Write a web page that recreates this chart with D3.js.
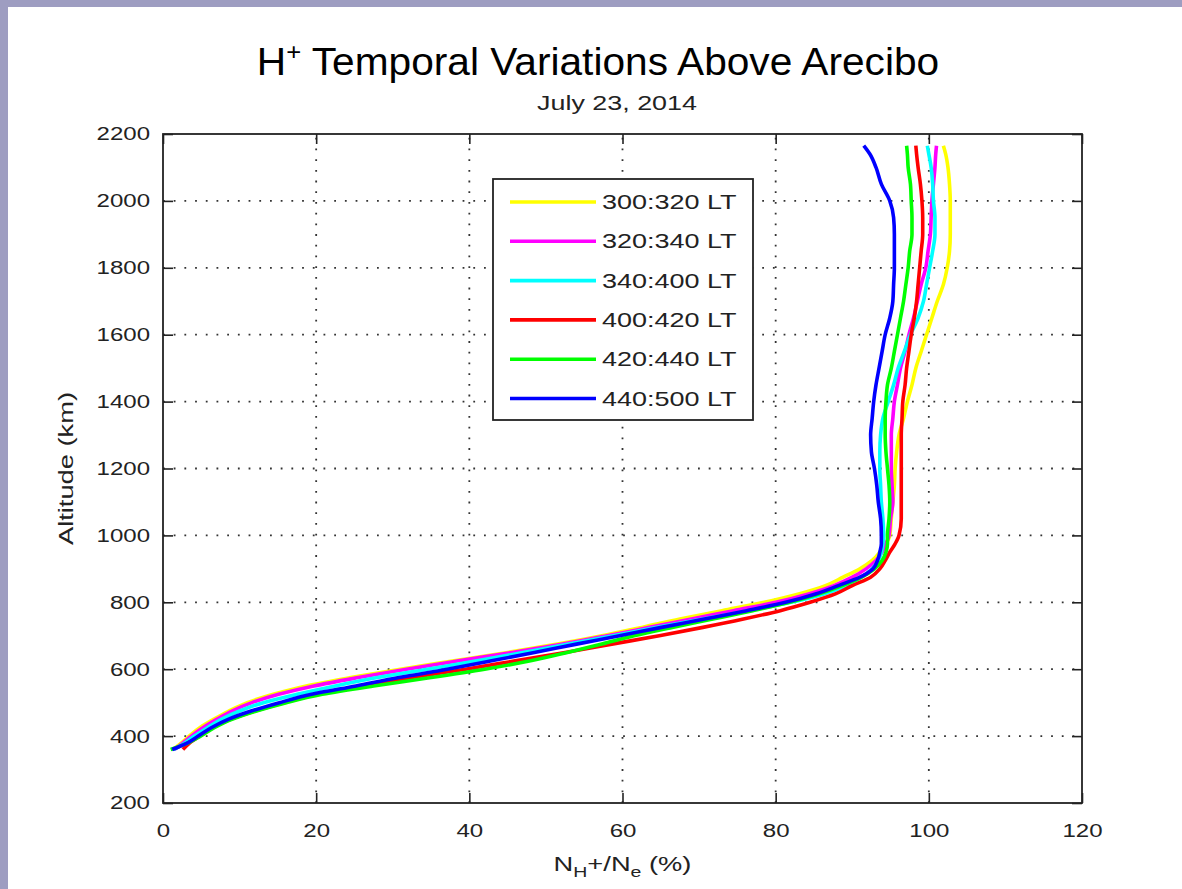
<!DOCTYPE html>
<html lang="en">
<head>
  <meta charset="UTF-8">
  <title>H+ Temporal Variations Above Arecibo</title>
  <style>
    * { padding: 0; margin: 0; }
    html, body { width: 100%; height: 100%; background: #fff; }
    svg { display: block; font-family: "Liberation Sans", Arial, sans-serif; }
  </style>
</head>
<body>
  <svg id="svg"></svg>
  <script src="https://cdnjs.cloudflare.com/ajax/libs/d3/7.8.5/d3.min.js"></script>
  <script>
    // altitude samples (km), shared by all profiles
    const altitudes = [360, 380, 400, 425, 450, 475, 500, 525, 550, 575, 600, 625, 650, 675, 700, 725, 750, 775,
      800, 825, 850, 875, 900, 925, 950, 975, 1000, 1050, 1100, 1150, 1200, 1250, 1300, 1350, 1400, 1450, 1500,
      1550, 1600, 1650, 1700, 1750, 1800, 1850, 1900, 1950, 2000, 2050, 2100, 2140, 2165];

    // N_H+/N_e (%) for each time bin
    const lt300_320 = [1.3, 2.4, 3.4, 4.8, 6.6, 8.6, 11.0, 14.4, 18.7, 24.5, 31.0, 38.0, 45.0, 51.5, 57.3, 62.5, 67.5, 73.0,
      78.5, 83.0, 86.5, 88.8, 91.0, 92.6, 93.6, 94.4, 94.9, 95.1, 95.3, 95.5, 95.6, 95.8, 96.1, 96.7, 97.2, 97.8, 98.3,
      99.0, 99.7, 100.4, 101.1, 101.9, 102.4, 102.7, 102.8, 102.8, 102.8, 102.7, 102.5, 102.2, 101.9];
    const lt320_340 = [1.5, 2.6, 3.7, 5.2, 7.0, 9.0, 11.6, 15.1, 19.7, 25.5, 31.8, 38.6, 45.6, 52.2, 58.0, 63.5, 69.0, 74.5,
      80.0, 84.3, 87.6, 90.0, 91.8, 93.1, 93.9, 94.4, 94.8, 95.0, 95.3, 95.2, 95.1, 95.1, 95.1, 95.3, 95.5, 95.9, 96.3,
      96.9, 97.4, 98.0, 98.5, 99.0, 99.6, 99.9, 100.2, 100.3, 100.4, 100.6, 100.8, 100.9, 101.0];
    const lt340_400 = [1.4, 2.9, 4.1, 5.8, 7.6, 10.0, 13.1, 17.5, 22.5, 28.0, 34.5, 41.0, 47.0, 53.0, 58.8, 64.5, 70.5, 76.5,
      82.0, 86.3, 89.2, 91.2, 92.6, 93.4, 93.8, 94.0, 94.1, 94.0, 93.8, 93.7, 93.6, 93.6, 93.7, 94.0, 94.7, 95.4, 96.0,
      96.8, 97.6, 98.6, 99.3, 99.7, 100.1, 100.5, 100.8, 100.8, 100.6, 100.5, 100.3, 100.0, 99.8];
    const lt400_420 = [2.6, 3.5, 4.8, 6.5, 8.8, 12.0, 15.8, 20.3, 26.3, 32.5, 39.5, 46.0, 52.5, 58.6, 64.8, 70.5, 75.8, 80.6,
      84.5, 87.8, 90.0, 92.4, 93.6, 94.3, 94.9, 95.6, 96.1, 96.4, 96.4, 96.4, 96.4, 96.4, 96.4, 96.5, 96.6, 96.9, 97.1,
      97.4, 97.7, 98.1, 98.4, 98.6, 98.8, 99.0, 99.2, 99.2, 99.1, 98.9, 98.6, 98.4, 98.3];
    const lt420_440 = [1.0, 3.3, 4.9, 6.7, 9.0, 12.2, 16.1, 20.8, 27.5, 35.0, 42.0, 48.0, 52.8, 57.3, 61.5, 66.5, 71.8, 77.0,
      81.8, 85.6, 88.7, 91.2, 92.9, 93.9, 94.4, 94.6, 94.6, 94.8, 94.9, 94.8, 94.6, 94.4, 94.3, 94.3, 94.4, 94.6, 95.1,
      95.5, 95.9, 96.3, 96.7, 97.0, 97.3, 97.5, 97.8, 97.8, 97.7, 97.6, 97.3, 97.2, 97.1];
    const lt440_500 = [1.2, 3.2, 4.6, 6.3, 8.5, 11.5, 15.2, 19.4, 25.2, 30.8, 37.1, 42.9, 48.5, 54.0, 59.6, 65.1, 70.7, 76.2,
      81.3, 85.2, 88.2, 91.0, 92.7, 93.3, 93.6, 93.8, 93.8, 93.7, 93.4, 93.2, 92.9, 92.5, 92.4, 92.6, 92.8, 93.1, 93.5,
      93.9, 94.3, 94.9, 95.3, 95.4, 95.5, 95.5, 95.5, 95.4, 94.9, 93.8, 93.1, 92.3, 91.5];

    const seriesNames = ['300:320 LT', '320:340 LT', '340:400 LT', '400:420 LT', '420:440 LT', '440:500 LT'];
    const seriesColors = ['#ffff00', '#ff00ff', '#00ffff', '#ff0000', '#00ff00', '#0000ff'];
    const seriesValues = [lt300_320, lt320_340, lt340_400, lt400_420, lt420_440, lt440_500];

    const xTicks = [0, 20, 40, 60, 80, 100, 120];
    const yTicks = [200, 400, 600, 800, 1000, 1200, 1400, 1600, 1800, 2000, 2200];

    const dimension = {
      width: 1182,
      height: 889,
      margin: { top: 134, right: 100, bottom: 86, left: 163 }
    };
    const plotW = dimension.width - dimension.margin.left - dimension.margin.right;
    const plotH = dimension.height - dimension.margin.top - dimension.margin.bottom;

    const svg = d3.select('#svg')
      .attr('width', dimension.width)
      .attr('height', dimension.height);

    // lavender window frame (top & left)
    svg.append('rect').attr('x', 0).attr('y', 0).attr('width', dimension.width).attr('height', 7).attr('fill', '#9e9dc1');
    svg.append('rect').attr('x', 0).attr('y', 0).attr('width', 8).attr('height', dimension.height).attr('fill', '#9e9dc1');

    const x = d3.scaleLinear().domain([0, 120]).range([0, plotW]);
    const y = d3.scaleLinear().domain([200, 2200]).range([plotH, 0]);

    const g = svg.append('g')
      .attr('transform', `translate(${dimension.margin.left},${dimension.margin.top})`);

    // dotted grid
    const grid = g.append('g').attr('class', 'grid')
      .attr('stroke', '#333').attr('stroke-width', 1.8).attr('stroke-dasharray', '1.8,8.9');
    grid.selectAll('.vg').data(xTicks.slice(1, -1)).join('line')
      .attr('x1', d => x(d)).attr('x2', d => x(d)).attr('y1', plotH).attr('y2', 0);
    grid.selectAll('.hg').data(yTicks.slice(1, -1)).join('line')
      .attr('y1', d => y(d)).attr('y2', d => y(d)).attr('x1', 0).attr('x2', plotW);

    // profiles
    const line = d3.line()
      .x(d => x(d[1]))
      .y(d => y(d[0]))
      .curve(d3.curveMonotoneY);

    g.append('g').attr('class', 'lines')
      .selectAll('path')
      .data(seriesValues)
      .join('path')
      .attr('fill', 'none')
      .attr('stroke', (d, i) => seriesColors[i])
      .attr('stroke-width', 3.6)
      .attr('stroke-linejoin', 'round')
      .attr('d', vals => line(altitudes.map((a, i) => [a, vals[i]])));

    // axes, MATLAB style: inward ticks on all four sides
    const tickFont = 18.5, tickStretch = 1.3;
    const yAxis = g.append('g')
      .call(d3.axisLeft(y).tickValues(yTicks).tickFormat(d3.format('d'))
        .tickSizeInner(-10).tickSizeOuter(0).tickPadding(13));
    const xAxis = g.append('g').attr('transform', `translate(0,${plotH})`)
      .call(d3.axisBottom(x).tickValues(xTicks).tickFormat(d3.format('d'))
        .tickSizeInner(-10).tickSizeOuter(0).tickPadding(21));
    g.append('g').attr('transform', `translate(${plotW},0)`)
      .call(d3.axisRight(y).tickValues(yTicks).tickSizeInner(-10).tickSizeOuter(0).tickFormat(''));
    g.append('g')
      .call(d3.axisTop(x).tickValues(xTicks).tickSizeInner(-10).tickSizeOuter(0).tickFormat(''));

    g.selectAll('.domain').remove();
    g.selectAll('.tick line').attr('stroke', '#222').attr('stroke-width', 1.6);

    yAxis.selectAll('text')
      .attr('font-size', tickFont).attr('fill', '#222')
      .attr('x', -13 / tickStretch)
      .attr('transform', `scale(${tickStretch},1)`);
    xAxis.selectAll('text')
      .attr('font-size', tickFont).attr('fill', '#222')
      .attr('transform', `scale(${tickStretch},1)`);

    // plot box
    g.append('rect')
      .attr('x', 0).attr('y', 0).attr('width', plotW).attr('height', plotH)
      .attr('fill', 'none').attr('stroke', '#222').attr('stroke-width', 1.8);

    // legend
    const legend = { x: 330, y: 45, w: 260, h: 241, rowH: 39.3, firstRow: 23 };
    const lg = g.append('g').attr('transform', `translate(${legend.x},${legend.y})`);
    lg.append('rect')
      .attr('width', legend.w).attr('height', legend.h)
      .attr('fill', '#fff').attr('stroke', '#222').attr('stroke-width', 1.8);
    const items = lg.selectAll('.item').data(seriesNames).join('g')
      .attr('transform', (d, i) => `translate(0,${legend.firstRow + i * legend.rowH})`);
    items.append('line')
      .attr('x1', 17).attr('x2', 103)
      .attr('stroke', (d, i) => seriesColors[i]).attr('stroke-width', 3.6);
    items.append('text')
      .attr('transform', 'translate(109,7) scale(1.35,1)')
      .attr('font-size', 20).attr('fill', '#222')
      .text(d => d);

    // title
    const title = svg.append('text')
      .attr('text-anchor', 'middle')
      .attr('transform', 'translate(598,75) scale(1.07,1)')
      .attr('font-size', 38).attr('fill', '#000');
    title.append('tspan').text('H');
    title.append('tspan').attr('font-size', 24).attr('dy', -15).text('+');
    title.append('tspan').attr('dy', 15).text(' Temporal Variations Above Arecibo');

    svg.append('text')
      .attr('text-anchor', 'middle')
      .attr('transform', 'translate(617,110) scale(1.28,1)')
      .attr('font-size', 21).attr('fill', '#222')
      .text('July 23, 2014');

    // axis labels
    svg.append('text')
      .attr('text-anchor', 'middle')
      .attr('transform', `translate(73,${dimension.margin.top + plotH / 2}) rotate(-90) scale(1.3,1)`)
      .attr('font-size', 21).attr('fill', '#222')
      .text('Altitude (km)');

    const xl = svg.append('text')
      .attr('text-anchor', 'middle')
      .attr('transform', `translate(${dimension.margin.left + plotW / 2},871) scale(1.3,1)`)
      .attr('font-size', 21).attr('fill', '#222');
    xl.append('tspan').text('N');
    xl.append('tspan').attr('font-size', 15).attr('dy', 6).text('H');
    xl.append('tspan').attr('dy', -6).text('+/N');
    xl.append('tspan').attr('font-size', 15).attr('dy', 6).text('e');
    xl.append('tspan').attr('dy', -6).text(' (%)');
  </script>
</body>
</html>
